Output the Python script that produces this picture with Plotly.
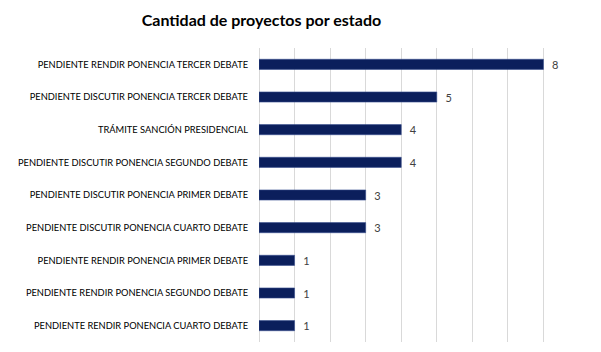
import plotly.graph_objects as go

categories = [
    "PENDIENTE RENDIR PONENCIA TERCER DEBATE",
    "PENDIENTE DISCUTIR PONENCIA TERCER DEBATE",
    "TRÁMITE SANCIÓN PRESIDENCIAL",
    "PENDIENTE DISCUTIR PONENCIA SEGUNDO DEBATE",
    "PENDIENTE DISCUTIR PONENCIA PRIMER DEBATE",
    "PENDIENTE DISCUTIR PONENCIA CUARTO DEBATE",
    "PENDIENTE RENDIR PONENCIA PRIMER DEBATE",
    "PENDIENTE RENDIR PONENCIA SEGUNDO DEBATE",
    "PENDIENTE RENDIR PONENCIA CUARTO DEBATE",
]
values = [8, 5, 4, 4, 3, 3, 1, 1, 1]
title_text = "Cantidad de proyectos por estado"

fig = go.Figure(
    go.Bar(
        x=values,
        y=categories,
        orientation="h",
        width=0.31,
        marker=dict(color="#0b1f5c", line=dict(color="#3a5190", width=0.6)),
        text=values,
        texttemplate="  %{text}",
        textposition="outside",
        constraintext="none",
        cliponaxis=False,
        textfont=dict(family="Lato", size=11, color="#404040"),
    )
)

fig.update_layout(
    width=601,
    height=352,
    margin=dict(l=259, r=22, t=48, b=10, autoexpand=False),
    paper_bgcolor="white",
    plot_bgcolor="white",
    showlegend=False,
    title=dict(
        text="<b>" + title_text + "</b>",
        x=0.435,
        xanchor="center",
        xref="container",
        y=1 - 20 / 352,
        yanchor="middle",
        yref="container",
        font=dict(family="Lato", size=16, color="#000000"),
    ),
)
fig.update_xaxes(
    range=[0, 9],
    dtick=1,
    showgrid=True,
    gridcolor="#d9d9d9",
    gridwidth=1,
    zeroline=True,
    zerolinecolor="#d9d9d9",
    zerolinewidth=1,
    showticklabels=False,
    showline=False,
    automargin=False,
)
fig.update_yaxes(
    autorange="reversed",
    showgrid=False,
    showline=False,
    ticks="",
    automargin=False,
    ticklabelstandoff=10,
    tickfont=dict(family="Lato", size=9.3, color="#000000"),
)

fig.write_html("out.html")
